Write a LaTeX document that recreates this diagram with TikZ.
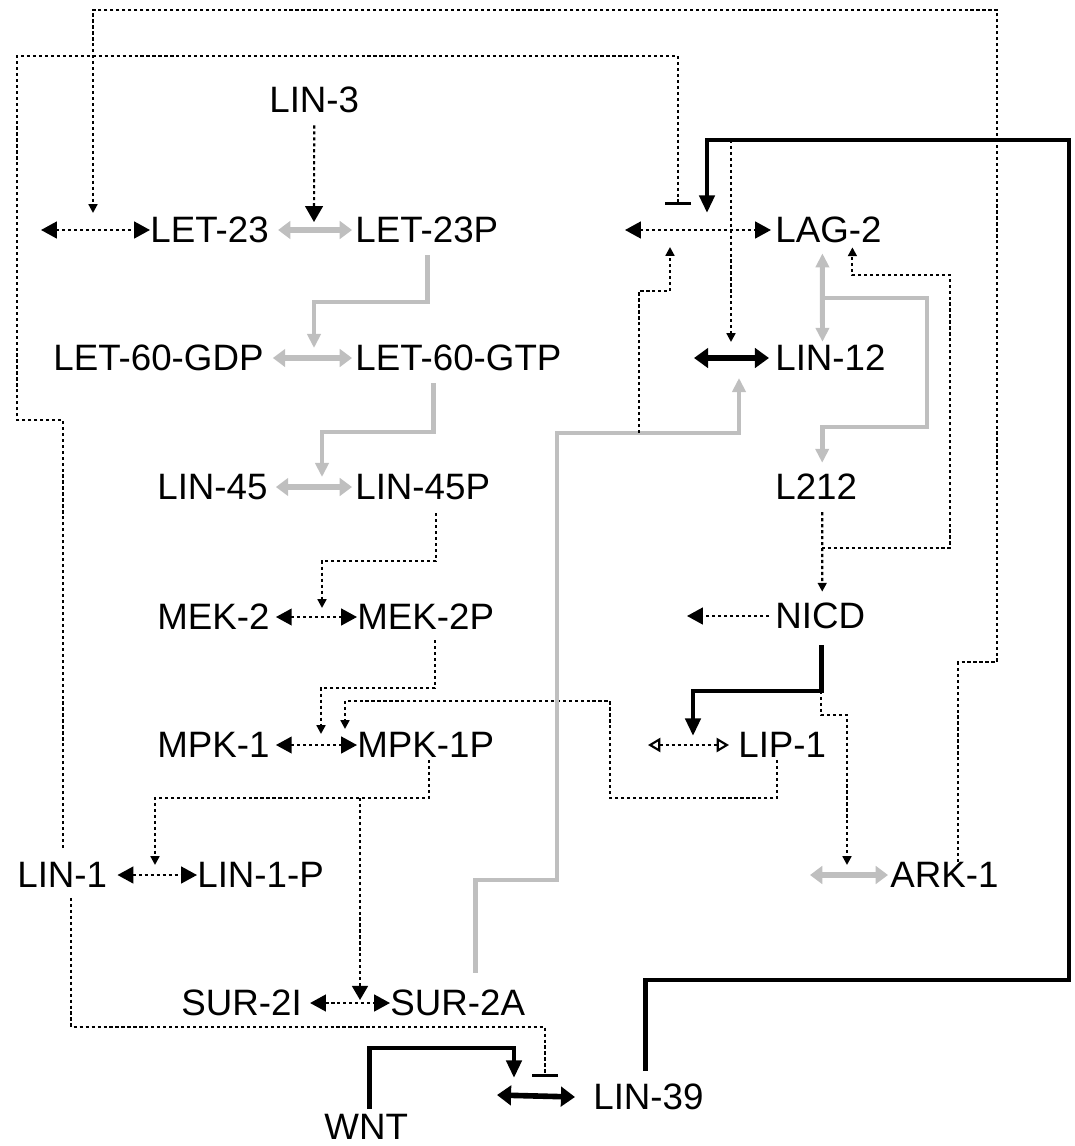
\documentclass[tikz,border=0pt]{standalone}
\usepackage{fontspec}
\setmainfont{Liberation Sans}
\usetikzlibrary{positioning,calc,arrows.meta}

\tikzset{
  gene/.style={anchor=west, inner sep=0pt, font=\fontsize{20.9}{25}\selectfont},
  dotline/.style={line width=1.2pt, dash pattern=on 1.8pt off 1.6pt},
  dotarr/.style={dotline, -{Triangle[length=5pt,width=5pt]}},
  dotrx/.style={dotline, {Triangle[length=9pt,width=9.5pt]}-{Triangle[length=9pt,width=9.5pt]}},
  openrx/.style={dotline, {Triangle[open,length=7pt,width=8pt]}-{Triangle[open,length=7pt,width=8pt]}},
  grayline/.style={line width=2.8pt, draw=black!25, -{Triangle[length=8pt,width=7.5pt]}},
  grayrx/.style={line width=3.5pt, draw=black!25, {Triangle[length=7pt,width=10pt]}-{Triangle[length=7pt,width=10pt]}},
  blackline/.style={line width=2.8pt, -{Triangle[length=10pt,width=8.5pt]}},
  blackrx/.style={line width=3.2pt, {Triangle[length=8pt,width=11pt]}-{Triangle[length=8pt,width=11pt]}},
  inhib/.style={dotline, -{Bar[width=15pt, line width=1.6pt]}},
}

\begin{document}
\begin{tikzpicture}[x=0.02cm, y=-0.02cm]
\useasboundingbox (0,0) rectangle (1075,1146);

% Species
\node[gene] (lin3) at (269,100) {LIN-3};
\node[gene] (let23) at (150,230) {LET-23};
\node[gene] (let23p) at (355,230) {LET-23P};
\node[gene] (let60gdp) at (53,358) {LET-60-GDP};
\node[gene] (let60gtp) at (355,358) {LET-60-GTP};
\node[gene] (lin45) at (157,487) {LIN-45};
\node[gene] (lin45p) at (355,487) {LIN-45P};
\node[gene] (mek2) at (157,617) {MEK-2};
\node[gene] (mek2p) at (357,617) {MEK-2P};
\node[gene] (mpk1) at (157,745) {MPK-1};
\node[gene] (mpk1p) at (357,745) {MPK-1P};
\node[gene] (lin1) at (17,875) {LIN-1};
\node[gene] (lin1p) at (197,875) {LIN-1-P};
\node[gene] (sur2i) at (181,1003) {SUR-2I};
\node[gene] (sur2a) at (390,1003) {SUR-2A};
\node[gene] (wnt) at (324,1127) {WNT};
\node[gene] (lin39) at (593,1097) {LIN-39};
\node[gene] (lag2) at (775,230) {LAG-2};
\node[gene] (lin12) at (775,358) {LIN-12};
\node[gene] (l212) at (775,487) {L212};
\node[gene] (nicd) at (775,616) {NICD};
\node[gene] (lip1) at (738,745) {LIP-1};
\node[gene] (ark1) at (890,875) {ARK-1};

% Free ends and mid points of the transitions
\coordinate (let23src) at (41,230);
\coordinate (lag2src) at (625,230);
\coordinate (lin12src) at (694,358);
\coordinate (nicdsink) at (687,616);
\coordinate (lip1src) at (648,745);
\coordinate (ark1src) at (810,875);
\coordinate (lin39src) at (497,1095);
\coordinate (tlet23in) at (93,230);
\coordinate (tlet23) at (314,230);
\coordinate (tlet60) at (314,358);
\coordinate (tlin45) at (322,487);
\coordinate (tmek) at (322,617);
\coordinate (tmpk) at (321,745);
\coordinate (tlin1) at (155,875);
\coordinate (tsur) at (360,1003);
\coordinate (tlag2) at (678,230);
\coordinate (tlin12) at (731,358);
\coordinate (tlip1) at (693,745);
\coordinate (tark1) at (847,875);
\coordinate (tlin39) at (514,1095);

% Transitions
\draw[dotrx] (let23src) -- (let23.west);
\draw[grayrx] ($(let23.east)+(9,0)$) -- ($(let23p.west)+(-3,0)$);
\draw[grayrx] ($(let60gdp.east)+(9,0)$) -- ($(let60gtp.west)+(-3,0)$);
\draw[grayrx] ($(lin45.east)+(8,0)$) -- ($(lin45p.west)+(-3,0)$);
\draw[dotrx] ($(mek2.east)+(6,0)$) -- (mek2p.west);
\draw[dotrx] ($(mpk1.east)+(6,0)$) -- (mpk1p.west);
\draw[dotrx] ($(lin1.east)+(10,0)$) -- (lin1p.west);
\draw[dotrx] ($(sur2i.east)+(8,0)$) -- (sur2a.west);
\draw[dotrx] (lag2src) -- ($(lag2.west)+(-4,0)$);
\draw[blackrx] (lin12src) -- ($(lin12.west)+(-6,0)$);
\draw[dotline, -{Triangle[length=9pt,width=9.5pt]}] ($(nicd.west)+(-6,0)$) -- (nicdsink);
\draw[openrx] (lip1src) -- ($(lip1.west)+(-9,0)$);
\draw[grayrx] (ark1src) -- ($(ark1.west)+(-2,0)$);
\draw[blackrx] (lin39src) -- ($(lin39.west)+(-18,0)$);

% Vulval signalling cascade
\draw[dotline, -{Triangle[length=9pt,width=10pt]}] ($(lin3.south)+(0,12)$) -- ($(tlet23)+(0,-8)$);
\draw[grayline] ($(let23p.south)+(1,12)$) |- (314,302) -- ($(tlet60)+(0,-10)$);
\draw[grayline] ($(let60gtp.south)+(-25,12)$) |- (322,432) -- ($(tlin45)+(0,-10)$);
\draw[dotarr] ($(lin45p.south)+(13,13)$) |- (322,561) -- ($(tmek)+(0,-9)$);
\draw[dotarr] ($(mek2p.south)+(9,10)$) |- (321,688) -- ($(tmpk)+(0,-11)$);
\draw[dotarr] ($(lip1.south)+(-5,2)$) |- (610,798) |- (345,701) -- ($(tmpk)+(24,-16)$);
\draw[dotarr] ($(mpk1p.south)+(3,2)$) |- (155,798) -- ($(tlin1)+(0,-10)$);
\draw[dotline, -{Triangle[length=8pt,width=9pt]}] (360,798) -- ($(tsur)+(0,-3)$);

% LIN-1 inhibitions
\draw[inhib] ($(lin1.north)+(1,-14)$) |- (17,420) |- (678,56) -- ($(tlag2)+(0,-25)$);
\draw[inhib] ($(lin1.south)+(9,10)$) |- (545,1027) -- ($(tlin39)+(31,-18)$);

% WNT and LIN-39
\draw[blackline] ($(wnt.north)+(3,-5)$) |- (514,1048) -- ($(tlin39)+(0,-17)$);
\draw[blackline] ($(lin39.north)+(-3,-13)$) |- (1069,980) |- (707,140) -- ($(tlag2)+(29,-17)$);
\draw[dotarr] (731,140) -- ($(tlin12)+(0,-16)$);

% SUR-2A
\draw[grayline] ($(sur2a.north)+(18,-17)$) |- (557,880) |- (739,433) -- ($(tlin12)+(8,20)$);
\draw[dotarr] (639,433) |- (670,291) -- ($(tlag2)+(-8,17)$);

% Lateral signal
\draw[grayline, {Triangle[length=8pt,width=7.5pt]}-{Triangle[length=8pt,width=7.5pt]}] ($(lag2.south)+(-6,10)$) -- ($(lin12.north)+(-8,-3)$);
\draw[grayline] (822,298) -| (927,427) -| ($(l212.north)+(6,-11)$);
\draw[dotarr] ($(l212.south)+(6,12)$) -- ($(nicd.north)+(2,-11)$);
\draw[dotarr] (822,548) -| (950,275) -| ($(lag2.south)+(24,4)$);
\draw[blackline] ($(nicd.south)+(1,16)$) |- (693,691) -- ($(tlip1)+(0,-9)$);
\draw[dotarr] (821,691) |- (847,715) -- ($(tark1)+(0,-10)$);

% ARK-1 back to LET-23
\draw[dotarr] ($(ark1.north)+(14,0)$) |- (997,662) |- (93,10) -- ($(tlet23in)+(0,-17)$);

\end{tikzpicture}
\end{document}
